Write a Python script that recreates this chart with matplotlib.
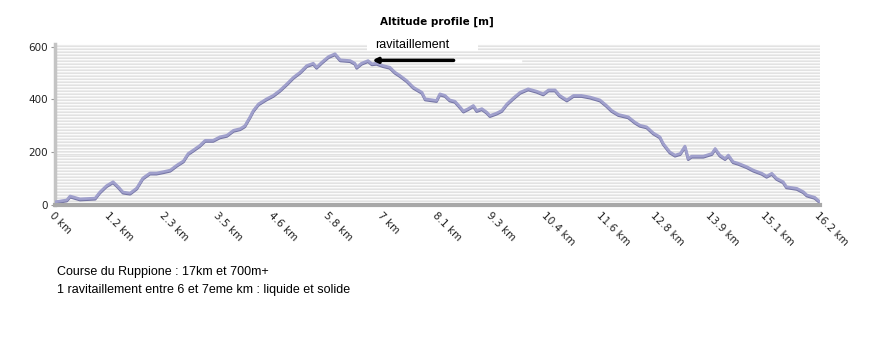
import numpy as np
import matplotlib
matplotlib.use('Agg')
import matplotlib.pyplot as plt

# profile: distance (km), altitude (m)
dist_km = [0, 0.25, 0.32, 0.53, 0.85, 0.95, 1.09, 1.23, 1.34, 1.44, 1.59, 1.73, 1.86, 2.01,
           2.15, 2.29, 2.44, 2.58, 2.72, 2.82, 2.92, 3.07, 3.18, 3.35, 3.49, 3.64, 3.78, 3.92,
           4.02, 4.13, 4.20, 4.31, 4.48, 4.62, 4.76, 4.91, 5.05, 5.19, 5.33, 5.47, 5.54, 5.65,
           5.79, 5.93, 6.04, 6.25, 6.35, 6.39, 6.49, 6.63, 6.71, 6.81, 6.95, 7.09, 7.20, 7.31,
           7.45, 7.59, 7.77, 7.84, 8.08, 8.15, 8.26, 8.36, 8.47, 8.58, 8.65, 8.75, 8.86, 8.93,
           9.04, 9.14, 9.21, 9.35, 9.46, 9.57, 9.71, 9.85, 10.02, 10.20, 10.34, 10.45, 10.59,
           10.69, 10.84, 10.98, 11.15, 11.33, 11.54, 11.68, 11.79, 11.93, 12.14, 12.28, 12.39,
           12.53, 12.67, 12.81, 12.88, 13.02, 13.13, 13.24, 13.34, 13.41, 13.48, 13.73, 13.91,
           13.98, 14.08, 14.19, 14.26, 14.36, 14.47, 14.65, 14.79, 14.97, 15.07, 15.18, 15.28,
           15.42, 15.49, 15.71, 15.85, 15.92, 16.09, 16.2]
alt_m = [12, 19, 34, 23, 26, 49, 73, 88, 69, 49, 45, 64, 102, 121,
         121, 126, 132, 151, 167, 195, 207, 226, 245, 245, 258, 264, 283, 289,
         300, 334, 358, 383, 402, 415, 434, 459, 484, 503, 528, 537, 522, 541,
         562, 573, 550, 547, 537, 522, 537, 547, 535, 537, 528, 522, 503, 490,
         471, 446, 427, 402, 396, 421, 415, 398, 393, 371, 356, 365, 377, 358,
         365, 352, 339, 348, 358, 383, 406, 427, 440, 431, 421, 436, 436,
         415, 398, 415, 415, 409, 398, 377, 358, 343, 334, 314, 302,
         296, 273, 258, 233, 201, 189, 195, 223, 176, 185, 185, 195,
         214, 189, 176, 189, 164, 158, 145, 132, 120, 109, 120, 101,
         88, 69, 63, 50, 38, 29, 12]

tick_labels = ['0 km', '1.2 km', '2.3 km', '3.5 km', '4.6 km', '5.8 km', '7 km', '8.1 km',
               '9.3 km', '10.4 km', '11.6 km', '12.8 km', '13.9 km', '15.1 km', '16.2 km']
y_ticks = [0, 200, 400, 600]

total_km = 16.2
ravito_km = 6.71
ravito_alt = 548

fig = plt.figure(figsize=(8.75, 3.47), dpi=100)
ax = fig.add_axes([55 / 875, 1 - 205 / 347, 765 / 875, 161 / 347])
ax.set_xlim(0, total_km)
ax.set_ylim(0, 610)

# striped background, thin light lines on white
for y in np.arange(3, 610, 11.3):
    ax.axhline(y, color='#e2e2e2', lw=0.8, zorder=0)
    ax.axhline(y + 4, color='#ececec', lw=0.8, zorder=0)

# profile line with a darker shadow underneath
ax.plot(dist_km, np.array(alt_m) - 4, color='#7474a4', lw=2.0, zorder=2)
ax.plot(dist_km, alt_m, color='#a0a0cc', lw=2.0, zorder=3)

# annotation
ax.plot([8.5, 9.85], [ravito_alt - 2, ravito_alt - 2], color='white', lw=2.5, zorder=4)
ax.annotate('', xy=(ravito_km - 0.05, ravito_alt), xytext=(8.5, ravito_alt),
            arrowprops=dict(arrowstyle='-|>', color='black', lw=2.5, mutation_scale=7),
            zorder=5)
ax.add_patch(plt.Rectangle((6.6, 585), 2.35, 53, facecolor='white', edgecolor='none',
                           zorder=4, clip_on=False))
ax.text(6.77, 606, 'ravitaillement', fontsize=9, family='Liberation Sans',
        va='center', ha='left', zorder=5)

ticks = [i * total_km / 14 for i in range(15)]
ax.set_xticks(ticks)
ax.set_xticklabels(tick_labels, rotation=-45, ha='left', va='top',
                   rotation_mode='anchor', fontsize=7.5, color='#222222')
ax.set_yticks(y_ticks)
ax.set_yticklabels([str(v) for v in y_ticks], fontsize=7.5, color='#222222')
ax.tick_params(axis='x', length=0, pad=4)
ax.tick_params(axis='y', length=3, color='#999999', pad=2)

for s in ['top', 'right']:
    ax.spines[s].set_visible(False)
ax.spines['left'].set_color('#c4c4c4')
ax.spines['left'].set_linewidth(2.5)
ax.spines['bottom'].set_color('#a8a8a8')
ax.spines['bottom'].set_linewidth(3)

fig.text(437 / 875, 1 - 22 / 347, 'Altitude profile [m]', fontsize=7.5, fontweight='bold',
         ha='center', va='center')
fig.text(57 / 875, 1 - 272 / 347, 'Course du Ruppione : 17km et 700m+', fontsize=9.0,
         family='Liberation Sans', ha='left', va='center')
fig.text(57 / 875, 1 - 290 / 347, '1 ravitaillement entre 6 et 7eme km : liquide et solide',
         fontsize=9.0, family='Liberation Sans', ha='left', va='center')

fig.savefig('out.png', dpi=100)
